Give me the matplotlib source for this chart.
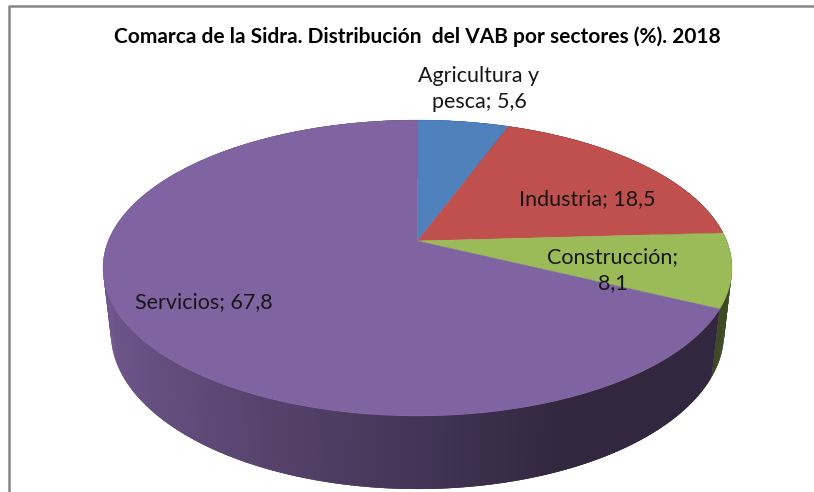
import numpy as np
import matplotlib
matplotlib.use("Agg")
import matplotlib.pyplot as plt

sectores = ["Agricultura y\npesca; ", "Industria; ", "Construcción;\n", "Servicios; "]
valores = [5.6, 18.5, 8.1, 67.8]
colores = ["#4F81BD", "#C0504D", "#9BBB59", "#8064A2"]
titulo = "Comarca de la Sidra. Distribución  del VAB por sectores (%). 2018"

# parametros de la perspectiva del disco
CX, CY = 417.5, 241
A, B, P = 309.2, 143, 0.1824
Q, C = 0.025, 66


def proyecta(x, y, z=0):
    w = 1 + P * y + Q * z
    return CX + A * x / w, CY - (B * y - C * z) / w


def borde(t, z=0):
    return proyecta(np.sin(t), np.cos(t), z)


def sombra(t):
    # la pared se oscurece de izquierda a derecha
    return np.interp(np.sin(t), [-1, 0.4, 1], [0.875, 0.39, 0.39])


def dibuja_paredes(ax, angulos):
    for i, color in enumerate(colores):
        ts = np.linspace(angulos[i], angulos[i + 1], int(valores[i] * 10) + 2)
        paso = ts[1] - ts[0]
        base = np.array(matplotlib.colors.to_rgb(color))
        for t0 in ts[:-1]:
            # cada tira se solapa con la siguiente para que no se vean juntas
            tope = min(t0 + 2.5 * paso, angulos[i + 1])
            xa, ya = borde(np.array([t0, tope]))
            xb, yb = borde(np.array([tope, t0]), 1)
            c = base * sombra(t0 + paso / 2)
            ax.fill(np.r_[xa, xb], np.r_[ya, yb], color=c, lw=0, zorder=2)


def dibuja_tapa(ax, angulos):
    for i, color in enumerate(colores):
        ts = np.linspace(angulos[i], angulos[i + 1], int(valores[i] * 6) + 2)
        xs, ys = borde(ts)
        ax.fill(np.r_[CX, xs], np.r_[CY, ys], color=color, lw=0.3, zorder=3)


plt.rcParams["font.family"] = ["Lato", "DejaVu Sans"]
fig = plt.figure(figsize=(8.14, 4.92), dpi=100)
ax = fig.add_axes([0, 0, 1, 1])
ax.set_xlim(0, 814)
ax.set_ylim(492, 0)
ax.axis("off")

angulos = np.r_[0, np.cumsum(valores)] / np.sum(valores) * 2 * np.pi
dibuja_paredes(ax, angulos)
dibuja_tapa(ax, angulos)

# marco del grafico
ax.plot([9, 9, 814], [492, 6, 6], color="#868686", lw=1.8, zorder=1)

ax.text(417.5, 36.5, titulo, ha="center", va="center", fontsize=15, fontweight="bold", color="black")

pos_x = [479, 587, 613, 204]
pos_y = [89, 199, 270, 302]
for nombre, valor, x, y in zip(sectores, valores, pos_x, pos_y):
    texto = nombre + f"{valor:.1f}".replace(".", ",")
    ax.text(x, y, texto, ha="center", va="center", fontsize=15.5, color="#161616", linespacing=1.4, zorder=4)

fig.savefig("out.png", dpi=100)
